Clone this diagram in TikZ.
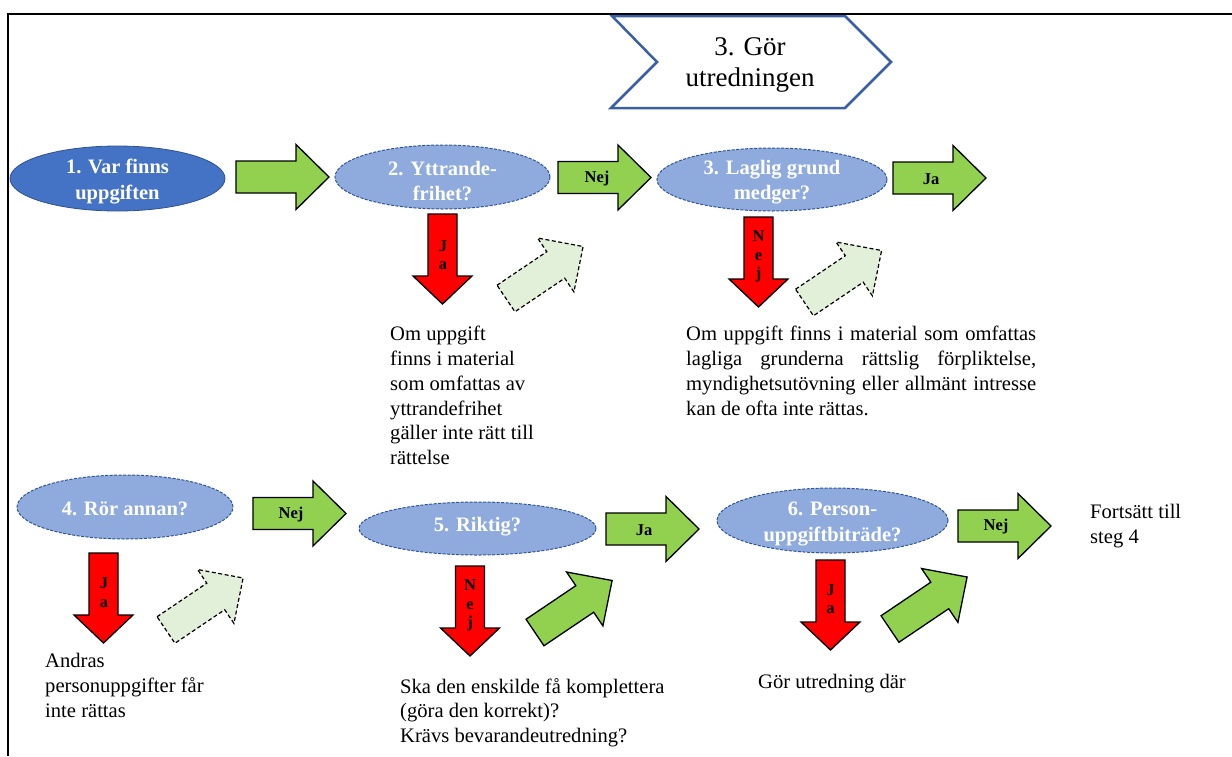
\documentclass[tikz,border=0pt]{standalone}
\usepackage{fontspec}
\setmainfont{Liberation Serif}
\usetikzlibrary{shapes.geometric}

\definecolor{darkstep}{HTML}{4472C4}
\definecolor{darkedge}{HTML}{2F528F}
\definecolor{lightstep}{HTML}{8FAADC}
\definecolor{dashedge}{HTML}{2F5597}
\definecolor{gogreen}{HTML}{92D050}
\definecolor{stopred}{HTML}{FF0000}
\definecolor{palegreen}{HTML}{E2F0D9}
\definecolor{chevblue}{HTML}{3A5FA5}

% block arrows drawn from the tail centre, pointing along local +x
\newcommand{\greenarrow}[1]{\path[#1] (0,-16) -- (60,-16) -- (60,-32.5) -- (93,0) -- (60,32.5) -- (60,16) -- (0,16) -- cycle;}
\newcommand{\redarrow}[1]{\path[#1] (0,-14.5) -- (62,-14.5) -- (62,-29.5) -- (90,0) -- (62,29.5) -- (62,14.5) -- (0,14.5) -- cycle;}

\begin{document}
\begin{tikzpicture}[x=1pt,y=-1pt,
  go/.style={fill=gogreen, draw=black, line width=1.3pt},
  stop/.style={fill=stopred, draw=black, line width=1.3pt},
  ghost/.style={fill=palegreen, draw=black, line width=1.2pt, dash pattern=on 4pt off 2.5pt},
  mainstep/.style={ellipse, draw=darkedge, line width=0.8pt, fill=darkstep, inner sep=0},
  qstep/.style={ellipse, draw=dashedge, line width=1pt, dash pattern=on 3pt off 1.5pt, fill=lightstep, inner sep=0},
  steptext/.style={font=\bfseries\fontsize{20.5}{25.5}\selectfont, text=white, align=center, inner sep=0},
  arrowlabel/.style={font=\bfseries\fontsize{16.5}{18.5}\selectfont, align=center, inner sep=0},
  note/.style={font=\fontsize{20.6}{24.8}\selectfont, align=left, anchor=north west, inner sep=0},
]
\useasboundingbox (0,0) rectangle (1232,756);

% frame
\draw[line width=1.8pt] (8,756) -- (8,14) -- (1232,14);

% heading chevron
\draw[chevblue, line width=2.5pt, line join=miter] (612,16) -- (845,16) -- (891,62) -- (845,108) -- (611,108) -- (657,62) -- cycle;
\node[font=\fontsize{27}{31.5}\selectfont, align=center, inner sep=0] (head) at (750,65) {3. Gör\\utredningen};

% step ellipses
\node[mainstep, minimum width=215, minimum height=65] (e1) at (117.5,178.5) {};
\node[qstep, minimum width=215, minimum height=64] (e2) at (442.5,177) {};
\node[qstep, minimum width=230, minimum height=63] (e3) at (772,179.5) {};
\node[qstep, minimum width=216, minimum height=64] (e4) at (125,507) {};
\node[qstep, minimum width=237, minimum height=53] (e5) at (477.5,528.5) {};
\node[qstep, minimum width=231, minimum height=65] (e6) at (832.5,520.5) {};

\node[steptext] (t1) at (117.5,181.5) {1. Var finns\\uppgiften};
\node[steptext] (t2) at (442.5,181) {2. Yttrande-\\frihet?};
\node[steptext] (t3) at (772,182) {3. Laglig grund\\medger?};
\node[steptext] (t4) at (125,509) {4. Rör annan?};
\node[steptext] (t5) at (477.5,527) {5. Riktig?};
\node[steptext] (t6) at (832.5,524) {6. Person-\\uppgiftbiträde?};

% forward arrows
\greenarrow{go, shift={(236,177)}}
\greenarrow{go, shift={(558,177.5)}}
\greenarrow{go, shift={(893,178)}}
\greenarrow{go, shift={(253,513.5)}}
\greenarrow{go, shift={(606,529)}}
\greenarrow{go, shift={(958,526)}}

\node[arrowlabel] (n2) at (597,178.5) {Nej};
\node[arrowlabel] (j3) at (931,179) {Ja};
\node[arrowlabel] (n4) at (291,514.5) {Nej};
\node[arrowlabel] (j5) at (644,530) {Ja};
\node[arrowlabel] (n6) at (996,527) {Nej};

% downward arrows
\redarrow{stop, shift={(442.5,214)}, rotate=-90}
\redarrow{stop, shift={(758.5,217)}, rotate=-90}
\redarrow{stop, shift={(103.5,553)}, rotate=-90}
\redarrow{stop, shift={(470,566)}, rotate=-90}
\redarrow{stop, shift={(830.5,560)}, rotate=-90}

\node[arrowlabel] (d2) at (443,255) {J\\a};
\node[arrowlabel] (d3) at (758.5,256.5) {N\\e\\j};
\node[arrowlabel] (d4) at (104,592.5) {J\\a};
\node[arrowlabel] (d5) at (470,605.5) {N\\e\\j};
\node[arrowlabel] (d6) at (830.5,599) {J\\a};

% diagonal return arrows
\greenarrow{ghost, shift={(506,298.5)}, rotate=34}
\greenarrow{ghost, shift={(804.5,302.5)}, rotate=34}
\greenarrow{ghost, shift={(166,630)}, rotate=34}
\greenarrow{go, shift={(535,632.5)}, rotate=34}
\greenarrow{go, shift={(890,629)}, rotate=34}

% notes
\node[note] (o2) at (390,326) {Om uppgift\\finns i material\\som omfattas av\\yttrandefrihet\\gäller inte rätt till\\rättelse};
\node[note, text width=350, align=justify] (o3) at (686,326) {\hyphenpenalty=10000 Om uppgift finns i material som omfattas\linebreak lagliga grunderna rättslig förpliktelse,\linebreak myndighetsutövning eller allmänt intresse\linebreak kan de ofta inte rättas.};
\node[note] (o4) at (45,653) {Andras\\personuppgifter får\\inte rättas};
\node[note] (o5) at (400,678) {Ska den enskilde få komplettera\\(göra den korrekt)?\\Krävs bevarandeutredning?};
\node[note] (o6) at (758,674) {Gör utredning där};
\node[note] (o7) at (1090,504) {Fortsätt till\\steg 4};
\end{tikzpicture}
\end{document}
